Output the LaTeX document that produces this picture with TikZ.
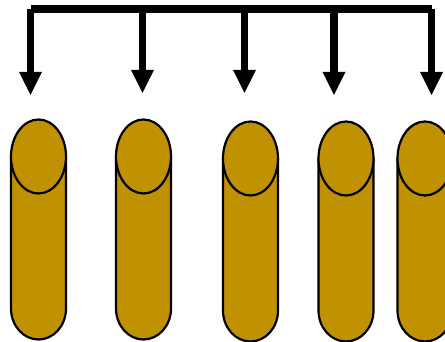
\documentclass[tikz,border=0pt]{standalone}
\usetikzlibrary{arrows.meta}
\definecolor{Tube}{RGB}{192,145,0}
\tikzset{
  tbody/.style={draw=black,line width=2.2pt,fill=Tube},
  bar/.style={draw=black,line width=7.5pt},
  barr/.style={-{Triangle[width=23pt,length=23pt,line width=0pt]},draw=black,line width=7.5pt},
  tube/.pic={
    \draw[tbody] (-27.5,184) -- (-27.5,32) arc[start angle=180,end angle=360,x radius=27.5,y radius=31] -- (27.5,184);
    \draw[tbody] (0,184) ellipse[x radius=27.5,y radius=37];
  }
}

\begin{document}
\begin{tikzpicture}[x=1pt,y=1pt]
\useasboundingbox (0,0) rectangle (445,342);
\clip (0,0) rectangle (445,342);
\pic (t1) at (38.5,1.5) {tube};
\pic (t2) at (143.5,1.5) {tube};
\pic (t3) at (250.5,-0.5) {tube};
\pic (t4) at (346,-0.5) {tube};
\pic (t5) at (425,-0.5) {tube};
\coordinate (b1) at (30.5,333);
\coordinate (b2) at (142.5,333);
\coordinate (b3) at (244.5,333);
\coordinate (b4) at (334,333);
\coordinate (b5) at (431.5,333);
\coordinate (a1) at (30.5,247);
\coordinate (a2) at (142.5,249);
\coordinate (a3) at (244.5,249);
\coordinate (a4) at (334,247);
\coordinate (a5) at (431.5,247);
\draw[bar] (b1) -- (b5);
\draw[barr] (b1) -- (a1);
\draw[barr] (b2) -- (a2);
\draw[barr] (b3) -- (a3);
\draw[barr] (b4) -- (a4);
\draw[barr] (b5) -- (a5);
\end{tikzpicture}
\end{document}
